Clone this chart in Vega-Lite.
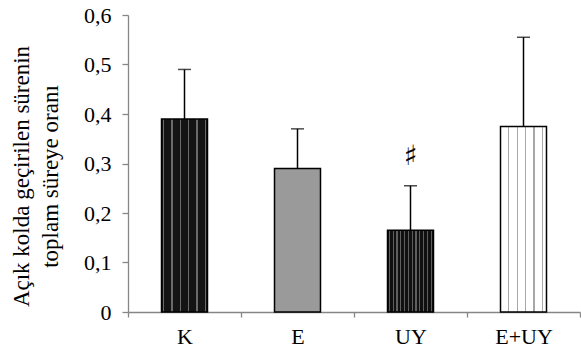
{
  "$schema": "https://vega.github.io/schema/vega-lite/v6.json",
  "autosize": "none",
  "padding": {"left": 128, "top": 15, "right": 1, "bottom": 37},
  "width": 452,
  "height": 297,
  "background": "white",
  "config": {
    "view": {"stroke": null},
    "font": "Liberation Serif"
  },
  "data": {
    "values": [
      {"g": "K", "mean": 0.39, "upper": 0.49, "sig": ""},
      {"g": "E", "mean": 0.29, "upper": 0.37, "sig": ""},
      {"g": "UY", "mean": 0.165, "upper": 0.255, "sig": "♯"},
      {"g": "E+UY", "mean": 0.375, "upper": 0.555, "sig": ""}
    ]
  },
  "encoding": {
    "x": {
      "field": "g",
      "type": "nominal",
      "sort": null,
      "scale": {"paddingInner": 0, "paddingOuter": 0},
      "axis": {
        "title": null,
        "labelAngle": 0,
        "labelFont": "Liberation Serif",
        "labelFontSize": 22,
        "labelColor": "black",
        "labelPadding": 9,
        "tickBand": "extent",
        "tickSize": 5,
        "tickColor": "#868686",
        "domainColor": "#868686",
        "tickWidth": 1.3,
        "domainWidth": 1.3
      }
    }
  },
  "layer": [
    {
      "mark": {"type": "bar", "width": {"band": 0.407}, "stroke": "black", "strokeWidth": 1.5},
      "encoding": {
        "y": {
          "field": "mean",
          "type": "quantitative",
          "scale": {"domain": [0, 0.6], "nice": false},
          "axis": {
            "values": [0, 0.1, 0.2, 0.3, 0.4, 0.5, 0.6],
            "labelExpr": "datum.value == 0 ? '0' : replace(format(datum.value, '.1f'), '.', ',')",
            "grid": false,
            "labelFont": "Liberation Serif",
            "labelFontSize": 22,
            "labelColor": "black",
            "labelPadding": 11,
            "tickSize": 6,
            "tickColor": "#868686",
            "domainColor": "#868686",
            "tickWidth": 1.3,
            "domainWidth": 1.3,
            "title": ["Açık kolda geçirilen sürenin", "toplam süreye oranı"],
            "titleFont": "Liberation Serif",
            "titleFontSize": 23,
            "titleFontWeight": "normal",
            "titleColor": "black",
            "titleLineHeight": 29,
            "titleBaseline": "top",
            "titleAlign": "center",
            "titleAngle": -90,
            "titleX": -118,
            "titleY": 161
          }
        },
        "fill": {
          "condition": [
            {"test": "datum.g == 'K'", "value": {
              "gradient": "linear", "x1": 0, "y1": 0, "x2": 1, "y2": 0,
              "stops": [
                {"offset": 0, "color": "#141414"},
                {"offset": 0.022, "color": "#141414"}, {"offset": 0.022, "color": "#6a6a6a"},
                {"offset": 0.050, "color": "#6a6a6a"}, {"offset": 0.050, "color": "#141414"},
                {"offset": 0.215, "color": "#141414"}, {"offset": 0.215, "color": "#6a6a6a"},
                {"offset": 0.243, "color": "#6a6a6a"}, {"offset": 0.243, "color": "#141414"},
                {"offset": 0.393, "color": "#141414"}, {"offset": 0.393, "color": "#6a6a6a"},
                {"offset": 0.421, "color": "#6a6a6a"}, {"offset": 0.421, "color": "#141414"},
                {"offset": 0.579, "color": "#141414"}, {"offset": 0.579, "color": "#6a6a6a"},
                {"offset": 0.607, "color": "#6a6a6a"}, {"offset": 0.607, "color": "#141414"},
                {"offset": 0.757, "color": "#141414"}, {"offset": 0.757, "color": "#6a6a6a"},
                {"offset": 0.785, "color": "#6a6a6a"}, {"offset": 0.785, "color": "#141414"},
                {"offset": 0.935, "color": "#141414"}, {"offset": 0.935, "color": "#6a6a6a"},
                {"offset": 0.963, "color": "#6a6a6a"}, {"offset": 0.963, "color": "#141414"},
                {"offset": 1, "color": "#141414"}
              ]
            }},
            {"test": "datum.g == 'E'", "value": "#9a9a9a"},
            {"test": "datum.g == 'UY'", "value": {
              "gradient": "linear", "x1": 0, "y1": 0, "x2": 1, "y2": 0,
              "stops": [
                {"offset": 0, "color": "#101010"},
                {"offset": 0.027, "color": "#101010"}, {"offset": 0.027, "color": "#5e5e5e"},
                {"offset": 0.053, "color": "#5e5e5e"}, {"offset": 0.053, "color": "#101010"},
                {"offset": 0.110, "color": "#101010"}, {"offset": 0.110, "color": "#5e5e5e"},
                {"offset": 0.136, "color": "#5e5e5e"}, {"offset": 0.136, "color": "#101010"},
                {"offset": 0.192, "color": "#101010"}, {"offset": 0.192, "color": "#5e5e5e"},
                {"offset": 0.218, "color": "#5e5e5e"}, {"offset": 0.218, "color": "#101010"},
                {"offset": 0.275, "color": "#101010"}, {"offset": 0.275, "color": "#5e5e5e"},
                {"offset": 0.301, "color": "#5e5e5e"}, {"offset": 0.301, "color": "#101010"},
                {"offset": 0.357, "color": "#101010"}, {"offset": 0.357, "color": "#5e5e5e"},
                {"offset": 0.383, "color": "#5e5e5e"}, {"offset": 0.383, "color": "#101010"},
                {"offset": 0.440, "color": "#101010"}, {"offset": 0.440, "color": "#5e5e5e"},
                {"offset": 0.466, "color": "#5e5e5e"}, {"offset": 0.466, "color": "#101010"},
                {"offset": 0.523, "color": "#101010"}, {"offset": 0.523, "color": "#5e5e5e"},
                {"offset": 0.549, "color": "#5e5e5e"}, {"offset": 0.549, "color": "#101010"},
                {"offset": 0.605, "color": "#101010"}, {"offset": 0.605, "color": "#5e5e5e"},
                {"offset": 0.631, "color": "#5e5e5e"}, {"offset": 0.631, "color": "#101010"},
                {"offset": 0.688, "color": "#101010"}, {"offset": 0.688, "color": "#5e5e5e"},
                {"offset": 0.714, "color": "#5e5e5e"}, {"offset": 0.714, "color": "#101010"},
                {"offset": 0.770, "color": "#101010"}, {"offset": 0.770, "color": "#5e5e5e"},
                {"offset": 0.796, "color": "#5e5e5e"}, {"offset": 0.796, "color": "#101010"},
                {"offset": 0.853, "color": "#101010"}, {"offset": 0.853, "color": "#5e5e5e"},
                {"offset": 0.879, "color": "#5e5e5e"}, {"offset": 0.879, "color": "#101010"},
                {"offset": 0.936, "color": "#101010"}, {"offset": 0.936, "color": "#5e5e5e"},
                {"offset": 0.962, "color": "#5e5e5e"}, {"offset": 0.962, "color": "#101010"},
                {"offset": 1, "color": "#101010"}
              ]
            }}
          ],
          "value": {
            "gradient": "linear", "x1": 0, "y1": 0, "x2": 1, "y2": 0,
            "stops": [
              {"offset": 0, "color": "#ffffff"},
              {"offset": 0.166, "color": "#ffffff"}, {"offset": 0.166, "color": "#a8a8a8"},
              {"offset": 0.194, "color": "#a8a8a8"}, {"offset": 0.194, "color": "#ffffff"},
              {"offset": 0.356, "color": "#ffffff"}, {"offset": 0.356, "color": "#a8a8a8"},
              {"offset": 0.384, "color": "#a8a8a8"}, {"offset": 0.384, "color": "#ffffff"},
              {"offset": 0.536, "color": "#ffffff"}, {"offset": 0.536, "color": "#a8a8a8"},
              {"offset": 0.564, "color": "#a8a8a8"}, {"offset": 0.564, "color": "#ffffff"},
              {"offset": 0.716, "color": "#ffffff"}, {"offset": 0.716, "color": "#a8a8a8"},
              {"offset": 0.744, "color": "#a8a8a8"}, {"offset": 0.744, "color": "#ffffff"},
              {"offset": 0.896, "color": "#ffffff"}, {"offset": 0.896, "color": "#a8a8a8"},
              {"offset": 0.924, "color": "#a8a8a8"}, {"offset": 0.924, "color": "#ffffff"},
              {"offset": 1, "color": "#ffffff"}
            ]
          }
        }
      }
    },
    {
      "mark": {"type": "rule", "color": "black", "strokeWidth": 1.5},
      "encoding": {
        "y": {"field": "mean", "type": "quantitative"},
        "y2": {"field": "upper"}
      }
    },
    {
      "mark": {"type": "tick", "color": "black", "size": 13, "thickness": 1.5},
      "encoding": {
        "y": {"field": "upper", "type": "quantitative"}
      }
    },
    {
      "mark": {"type": "text", "font": "DejaVu Serif", "fontSize": 28, "baseline": "middle", "dy": -29, "color": "black"},
      "encoding": {
        "y": {"field": "upper", "type": "quantitative"},
        "text": {"field": "sig"}
      }
    }
  ]
}
